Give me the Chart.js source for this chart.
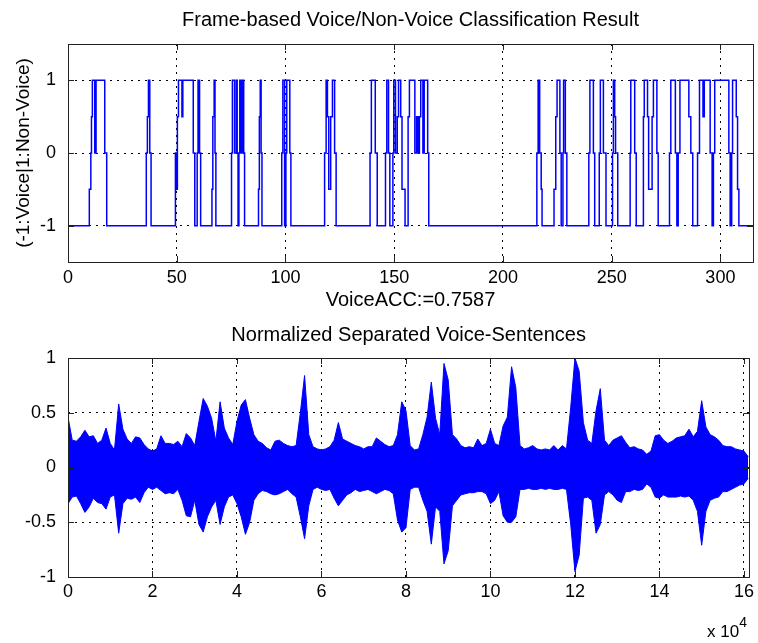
<!DOCTYPE html>
<html>
<head>
<meta charset="utf-8">
<script src="https://cdn.jsdelivr.net/npm/chart.js@4.4.1/dist/chart.umd.min.js"></script>
<style>
html, body { margin: 0; padding: 0; background: #fff; }
#wrap { position: relative; width: 758px; height: 643px; overflow: hidden; background: #fff; }
#c1 { position: absolute; left: 0; top: 0; }
#c2 { position: absolute; left: 0; top: 320px; }
#exp { position: absolute; left: 707px; top: 617px; font: 17px "Liberation Sans", Arial, sans-serif; color: #000; white-space: nowrap; }
#exp sup { font-size: 14px; position: relative; top: -3px; }
</style>
</head>
<body>
<div id="wrap">
  <canvas id="c1" width="758" height="320"></canvas>
  <canvas id="c2" width="758" height="323"></canvas>
  <div id="exp">x 10<sup>4</sup></div>
</div>
<script>
// frame-level decision (step positions in frames, level after each step)
const stepFrames = [
    0,
    9.8, 10.5, 10.8, 11.2, 12.3, 12.9, 16.9, 17.8,
    36, 36.5, 37, 37.6, 38.2,
    49.4, 49.8, 50.3, 50.8, 52.4, 52.8, 57.6, 58.3,
    59.4, 59.8, 60.5, 61,
    66.2, 66.6, 67.2, 67.6, 68,
    75.2, 75.6, 76.6, 77.4, 77.8, 78.2, 78.6, 79, 79.6, 80.2, 80.8, 81.2,
    87.6, 88, 88.4, 88.8, 89.2,
    98.3, 98.8, 99.6, 100.2, 100.6, 102, 102.5,
    118, 118.7, 119.3, 119.9, 120.8, 121.6, 122.6, 123.3,
    138.9, 139.5, 141.3, 142.2,
    146, 146.6, 147.4, 148,
    149.4, 149.8, 150.6, 151.4, 152, 153, 153.6, 155, 156.4, 157, 159.5, 160.3, 161, 161.6, 162.2, 163.2, 163.8, 165.4, 165.9,
    215.6, 216.2, 216.9, 217.6, 218,
    223.5, 224.3, 224.9, 226.2, 226.8, 227.6, 227.9, 228.7, 229.4,
    239.5, 240, 241.6, 242.2, 244.3, 244.8, 246.2, 247.4,
    250.4, 250.8, 251.4, 251.8, 252.8,
    258.5, 258.8, 260.6, 261.3,
    264.6, 265, 266.5, 267, 268.6, 269.2, 270.8, 271.4,
    276.6, 277.2, 279.3, 280, 280.6, 281.4, 285.5, 286.4, 287.3, 289.5, 290.4, 292, 292.6, 295.3, 296.2,
    296.8, 297.4, 303.9, 304.5, 305.2, 305.6, 307.3, 307.9, 308.5, 315
];
const stepLevels = [
    -1,
    -0.5, 0, 0.5, 1, 0, 1, 0, -1,
    0, 0.5, 1, 0, -1,
    0, -0.5, 0.5, 1, 0.5, 1, 0, -1,
    0, 1, 0, -1,
    -0.5, 0.5, 1, 0, -1,
    0, 1, 0, 1, 0, -1, 0, 1, 0, 1, 0, -1,
    -0.5, 0.5, 1, 0, -1,
    0, 1, -1, 0, 1, 0, -1,
    0, 1, 0.5, -0.5, 0.5, 1, 0, -1,
    0, 1, 0, -1,
    0, 1, 0, -1,
    0, 1, 0, 0.5, 1, 0.5, -0.5, -1, 0.5, 1, 0, 0.5, 0, 0.5, 1, 0, 1, 0, -1,
    0, 1, 0, -0.5, -1,
    -0.5, 0.5, 1, 0, -1, 0, 1, 0, -1,
    0, 1, 0, -1, 0, 1, 0, -1,
    0, 1, 0.5, 0, -1,
    0, 1, 0, -1,
    0.5, 1, 0.5, -0.5, 0.5, 1, 0, -1,
    0, 1, 0, -1, 0, 1, 0.5, 0, -1, 0, 1, 0.5, 1, 0, -1,
    0, 1, 0, -1, 0, 1, 0.5, -0.5, -1, -1
];
const frameTicks = [0, 50, 100, 150, 200, 250, 300];
const classTicks = [-1, 0, 1];

// waveform envelope, one value per 1000 samples
const waveBin = 1000;
const waveHi = [
    0.46, 0.25, 0.24, 0.28, 0.34, 0.28, 0.29, 0.22, 0.25, 0.36,
    0.22, 0.16, 0.58, 0.35, 0.26, 0.22, 0.28, 0.27, 0.21, 0.17,
    0.15, 0.17, 0.29, 0.22, 0.22, 0.21, 0.24, 0.19, 0.31, 0.27,
    0.2, 0.42, 0.63, 0.56, 0.45, 0.24, 0.6, 0.36, 0.27, 0.21,
    0.42, 0.57, 0.62, 0.45, 0.3, 0.24, 0.22, 0.18, 0.16, 0.24,
    0.25, 0.22, 0.2, 0.19, 0.2, 0.5, 0.84, 0.3, 0.19, 0.17,
    0.16, 0.17, 0.19, 0.25, 0.41, 0.26, 0.24, 0.22, 0.2, 0.19,
    0.17, 0.19, 0.19, 0.27, 0.24, 0.21, 0.19, 0.2, 0.3, 0.6,
    0.52, 0.2, 0.16, 0.17, 0.3, 0.46, 0.78, 0.45, 0.3, 0.95,
    0.8, 0.3, 0.26, 0.2, 0.18, 0.19, 0.18, 0.26, 0.2, 0.22,
    0.35, 0.22, 0.2, 0.38, 0.46, 0.92, 0.73, 0.2, 0.17, 0.18,
    0.2, 0.17, 0.16, 0.17, 0.16, 0.2, 0.16, 0.2, 0.17, 0.55,
    1.0, 0.88, 0.41, 0.25, 0.22, 0.52, 0.72, 0.25, 0.2, 0.25,
    0.27, 0.29, 0.23, 0.18, 0.19, 0.17, 0.16, 0.12, 0.15, 0.29,
    0.3, 0.25, 0.22, 0.24, 0.27, 0.28, 0.29, 0.35, 0.28, 0.33,
    0.61, 0.37, 0.3, 0.28, 0.25, 0.2, 0.19, 0.19, 0.17, 0.16,
    0.15, 0.1
];
const waveLo = [
    -0.33, -0.27, -0.26, -0.33, -0.41, -0.36, -0.28, -0.32, -0.33, -0.38,
    -0.27, -0.25, -0.6, -0.33, -0.28, -0.29, -0.27, -0.32, -0.23, -0.18,
    -0.2, -0.18, -0.21, -0.24, -0.23, -0.24, -0.2, -0.3, -0.44, -0.45,
    -0.3, -0.52, -0.59, -0.45, -0.36, -0.3, -0.52, -0.36, -0.27, -0.25,
    -0.33, -0.45, -0.61, -0.5, -0.3, -0.24, -0.21, -0.22, -0.24, -0.25,
    -0.24, -0.22, -0.2, -0.24, -0.27, -0.45, -0.65, -0.35, -0.2, -0.18,
    -0.2, -0.21, -0.2, -0.28, -0.35, -0.3, -0.25, -0.23, -0.2, -0.22,
    -0.21, -0.2, -0.22, -0.24, -0.22, -0.2, -0.21, -0.24, -0.48, -0.59,
    -0.55, -0.2, -0.18, -0.18, -0.3, -0.4, -0.7, -0.36, -0.4, -0.88,
    -0.76, -0.35, -0.3, -0.25, -0.24, -0.23, -0.23, -0.22, -0.22, -0.24,
    -0.33, -0.3, -0.22, -0.44, -0.5, -0.5, -0.45, -0.2, -0.2, -0.19,
    -0.2, -0.2, -0.19, -0.2, -0.19, -0.2, -0.2, -0.19, -0.2, -0.52,
    -0.95, -0.8, -0.28, -0.27, -0.3, -0.6, -0.52, -0.25, -0.22, -0.25,
    -0.3, -0.32, -0.22, -0.22, -0.2, -0.21, -0.2, -0.15, -0.18, -0.27,
    -0.28, -0.25, -0.27, -0.27, -0.27, -0.26, -0.27, -0.26, -0.3, -0.4,
    -0.71, -0.4, -0.3, -0.28, -0.27, -0.22, -0.22, -0.2, -0.18, -0.16,
    -0.15, -0.1
];
const sampleTicks = [0, 20000, 40000, 60000, 80000, 100000, 120000, 140000, 160000];
const ampTicks = [-1, -0.5, 0, 0.5, 1];

const FONT = '"Liberation Sans", Arial, Helvetica, sans-serif';
const BLUE = "#0000ff";

// matlab style box with inward ticks
const boxTicks = {
    id: "boxTicks",
    afterDraw(chart) {
        const { ctx, chartArea: a, scales: { x, y } } = chart;
        const len = 6;
        ctx.save();
        ctx.strokeStyle = "#222";
        ctx.lineWidth = 1;
        ctx.beginPath();
        x.ticks.forEach(t => {
            const px = Math.round(x.getPixelForValue(t.value)) + 0.5;
            ctx.moveTo(px, a.bottom); ctx.lineTo(px, a.bottom - len);
            ctx.moveTo(px, a.top); ctx.lineTo(px, a.top + len);
        });
        y.ticks.forEach(t => {
            const py = Math.round(y.getPixelForValue(t.value)) + 0.5;
            ctx.moveTo(a.left, py); ctx.lineTo(a.left + len, py);
            ctx.moveTo(a.right, py); ctx.lineTo(a.right - len, py);
        });
        ctx.stroke();
        ctx.strokeRect(Math.round(a.left) + 0.5, Math.round(a.top) + 0.5,
            Math.round(a.right - a.left), Math.round(a.bottom - a.top));
        ctx.restore();
    }
};

function gridOpts() {
    return { color: "#000", lineWidth: 1, drawTicks: false };
}

new Chart(document.getElementById("c1"), {
    type: "line",
    data: {
        datasets: [{
            data: stepFrames.map((f, i) => ({ x: f, y: stepLevels[i] })),
            borderColor: BLUE,
            borderWidth: 1.5,
            stepped: "before",
            pointRadius: 0,
            fill: false
        }]
    },
    options: {
        responsive: false,
        animation: false,
        layout: { padding: { left: 0, right: 5, top: 0, bottom: 0 } },
        plugins: {
            legend: { display: false },
            tooltip: { enabled: false },
            title: {
                display: true,
                text: "Frame-based Voice/Non-Voice Classification Result",
                fullSize: false,
                color: "#000",
                font: { size: 20, family: FONT, weight: "normal" },
                padding: { top: 8, bottom: 12 }
            }
        },
        scales: {
            x: {
                type: "linear", min: 0, max: 315,
                afterBuildTicks: s => { s.ticks = frameTicks.map(v => ({ value: v })); },
                afterFit: s => { s.height = 58; },
                grid: gridOpts(),
                border: { display: false, dash: [2, 5] },
                ticks: { color: "#000", font: { size: 18, family: FONT }, padding: 5, maxRotation: 0 },
                title: {
                    display: true, text: "VoiceACC:=0.7587", color: "#000",
                    font: { size: 20, family: FONT }, padding: { top: 0, bottom: 8 }
                }
            },
            y: {
                type: "linear", min: -1.5, max: 1.5,
                afterBuildTicks: s => { s.ticks = classTicks.map(v => ({ value: v })); },
                afterFit: s => { s.width = 68; },
                grid: gridOpts(),
                border: { display: false, dash: [2, 5] },
                ticks: { color: "#000", font: { size: 18, family: FONT }, padding: 12, callback: v => String(v) },
                title: {
                    display: true, text: "(-1:Voice|1:Non-Voice)", color: "#000",
                    font: { size: 19, family: FONT }, padding: { top: 12, bottom: 0 }
                }
            }
        }
    },
    plugins: [boxTicks]
});

new Chart(document.getElementById("c2"), {
    type: "line",
    data: {
        datasets: [{
            data: waveHi.map((v, i) => ({ x: i * waveBin, y: v })),
            borderColor: BLUE,
            backgroundColor: BLUE,
            borderWidth: 1,
            pointRadius: 0,
            fill: "+1"
        }, {
            data: waveLo.map((v, i) => ({ x: i * waveBin, y: v })),
            borderColor: BLUE,
            borderWidth: 1,
            pointRadius: 0,
            fill: false
        }]
    },
    options: {
        responsive: false,
        animation: false,
        layout: { padding: { left: 0, right: 5, top: 0, bottom: 0 } },
        plugins: {
            legend: { display: false },
            tooltip: { enabled: false },
            title: {
                display: true,
                text: "Normalized Separated Voice-Sentences",
                fullSize: false,
                color: "#000",
                font: { size: 20, family: FONT, weight: "normal" },
                padding: { top: 3, bottom: 11 }
            }
        },
        scales: {
            x: {
                type: "linear", min: 0, max: 161280,
                afterBuildTicks: s => { s.ticks = sampleTicks.map(v => ({ value: v })); },
                afterFit: s => { s.height = 66; },
                grid: gridOpts(),
                border: { display: false, dash: [2, 5] },
                ticks: { color: "#000", font: { size: 18, family: FONT }, padding: 4, maxRotation: 0, callback: v => String(v / 10000) }
            },
            y: {
                type: "linear", min: -1, max: 1,
                afterBuildTicks: s => { s.ticks = ampTicks.map(v => ({ value: v })); },
                afterFit: s => { s.width = 68; },
                grid: gridOpts(),
                border: { display: false, dash: [2, 5] },
                ticks: { color: "#000", font: { size: 18, family: FONT }, padding: 12, callback: v => String(v) }
            }
        }
    },
    plugins: [boxTicks]
});
</script>
</body>
</html>
